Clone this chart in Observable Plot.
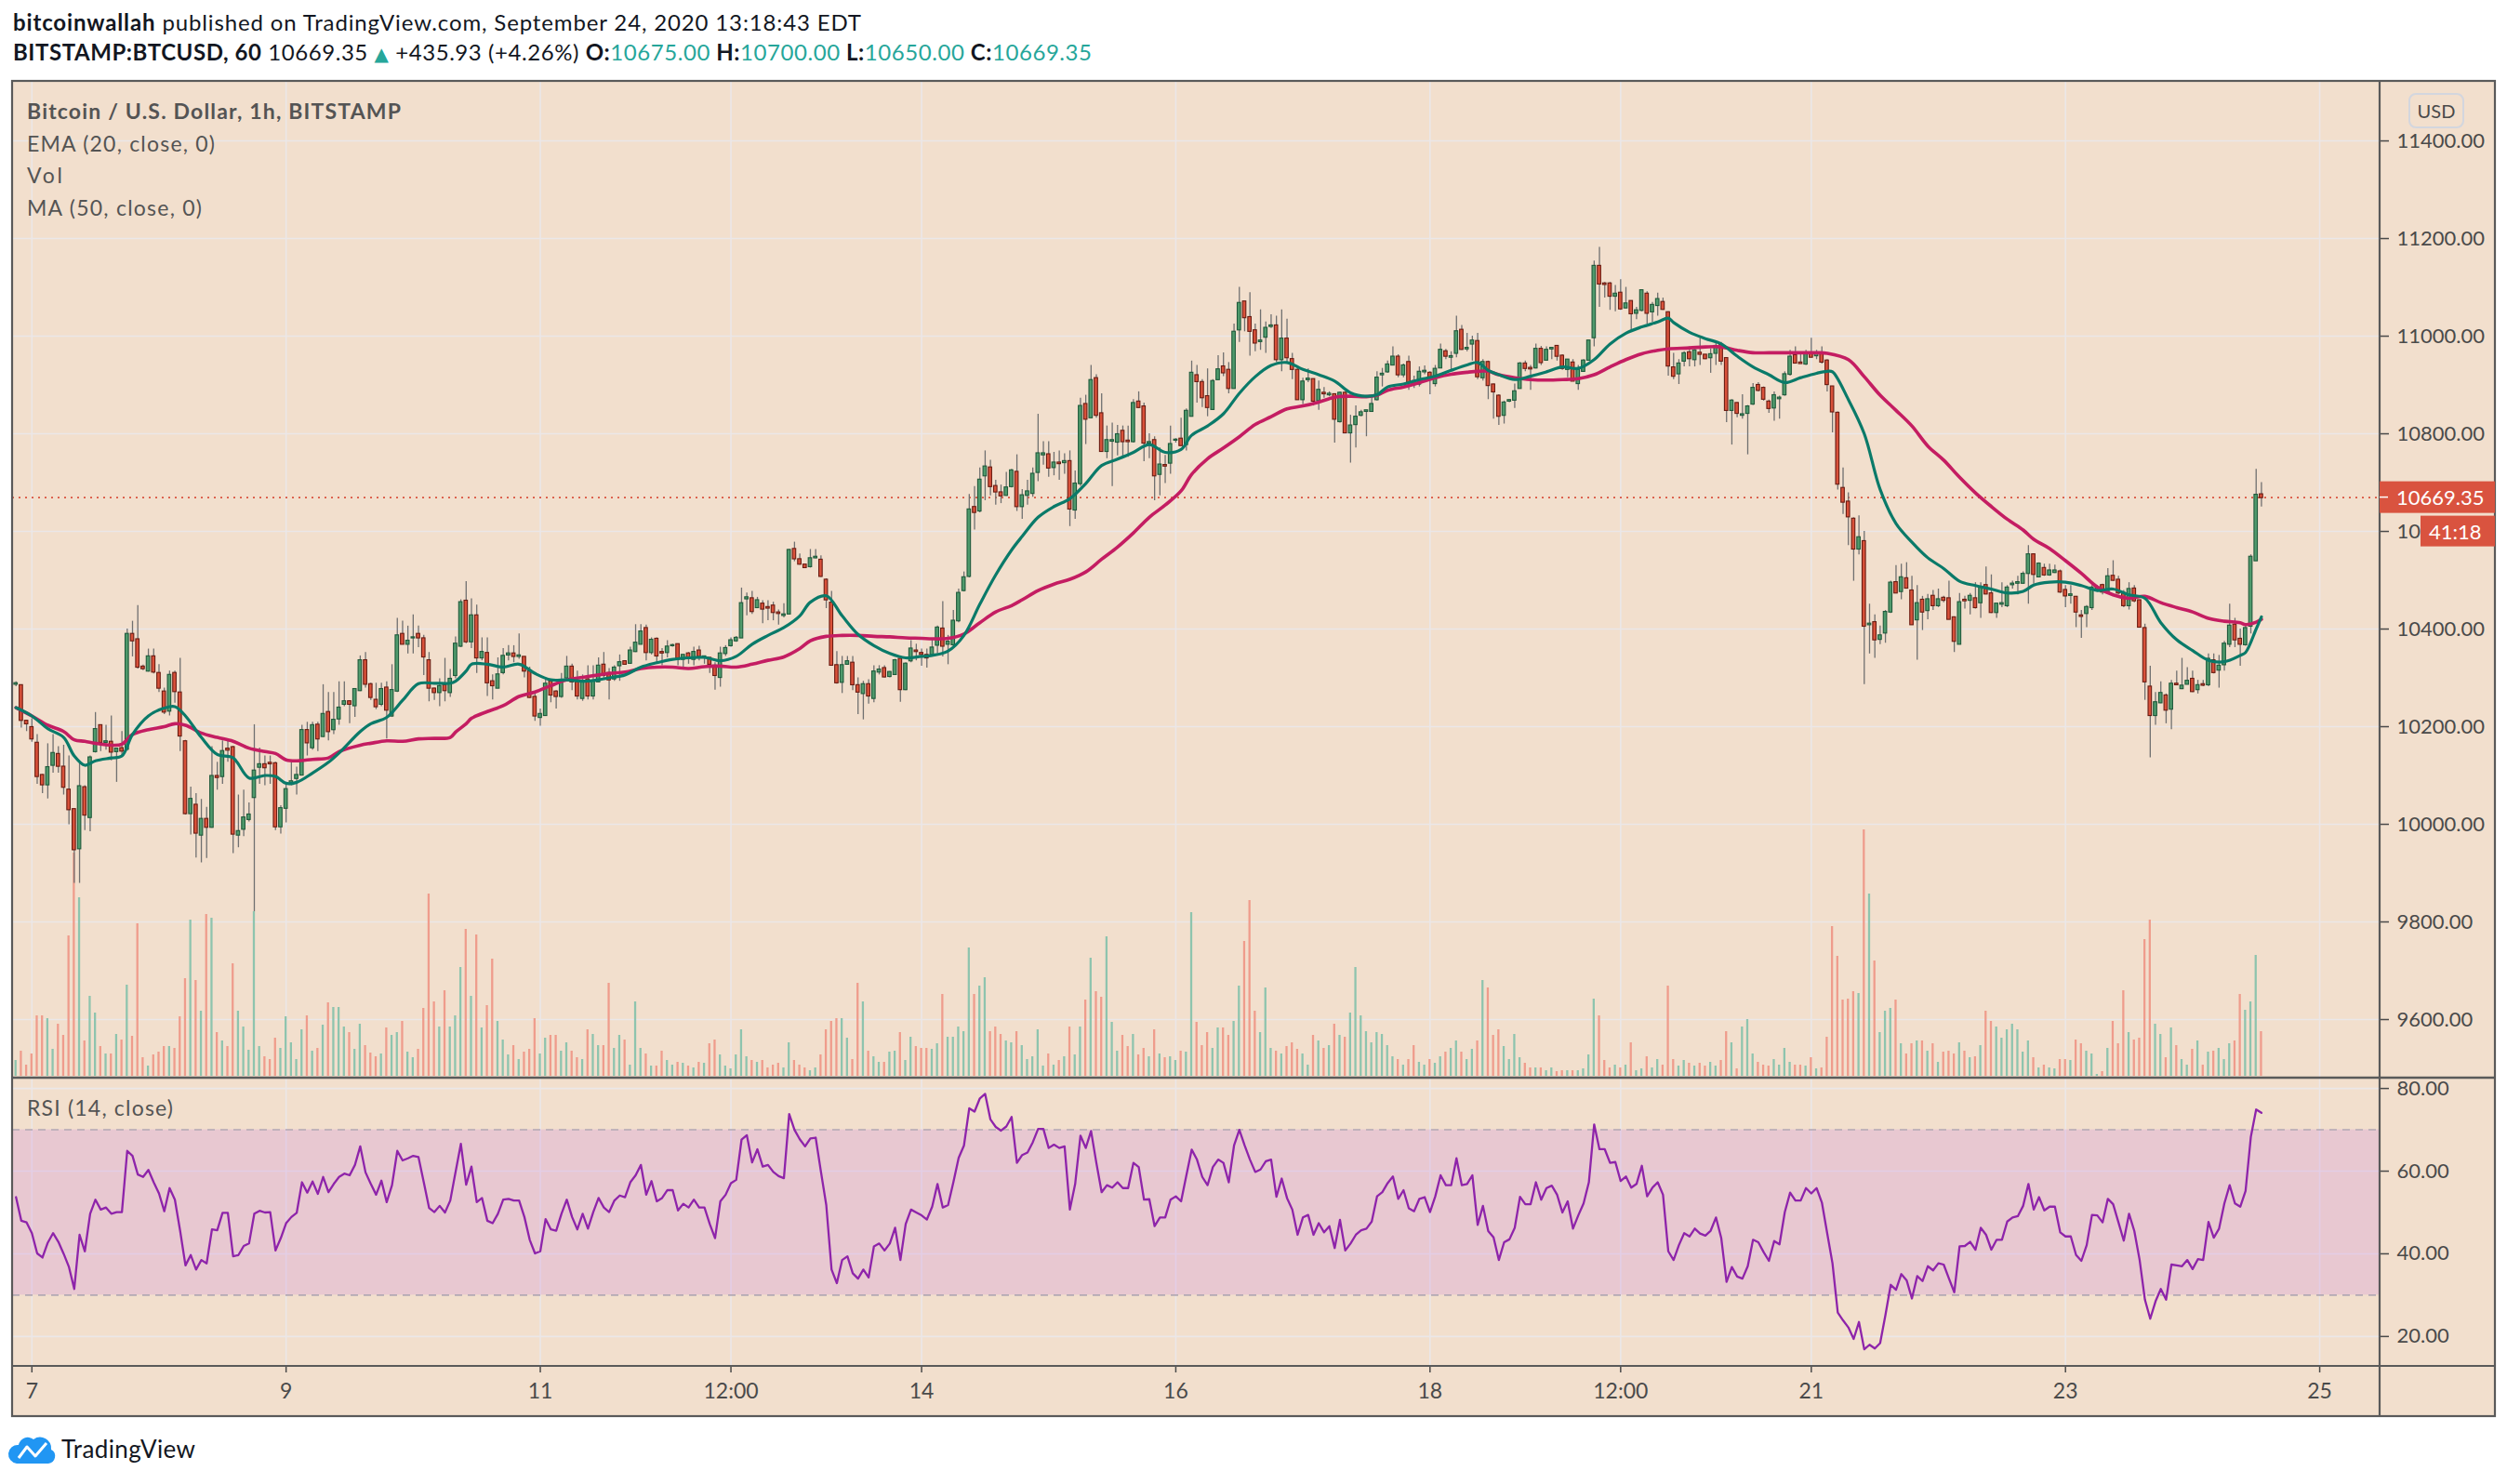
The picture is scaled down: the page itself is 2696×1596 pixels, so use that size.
<!DOCTYPE html>
<html><head><meta charset="utf-8">
<script src="https://cdn.jsdelivr.net/npm/d3@7"></script>
<script src="https://cdn.jsdelivr.net/npm/@observablehq/plot@0.6"></script>
<style>
html,body{margin:0;padding:0;background:#fff;}
#root{position:relative;width:2696px;height:1596px;overflow:hidden;background:#fff;}
#root svg{position:absolute;left:0;}
</style></head>
<body><div id="root"></div>
<script>
// ---------------- DATA ----------------
const firstCandle = Date.UTC(2020, 8, 6, 21); // Sep 6 21:00, hourly candles
const HOUR = 3600e3;

const open = [
10287,10284,10211,10198,10166,10100,10081,10121,10143,10117,
10070,10030,9950,10075,10014,10149,10202,10168,10168,10149,
10155,10154,10389,10378,10322,10314,10343,10309,10271,10232,
10309,10269,10169,10022,10039,9978,10010,9994,10098,10098,
10154,10157,9978,9990,10010,10055,10117,10122,10125,10124,
9995,10033,10082,10094,10101,10192,10157,10203,10180,10229,
10194,10216,10246,10251,10243,10274,10335,10286,10254,10246,
10279,10222,10273,10389,10369,10382,10389,10380,10335,10277,
10270,10284,10270,10305,10365,10457,10374,10427,10341,10350,
10292,10279,10311,10347,10349,10344,10342,10312,10260,10219,
10223,10292,10271,10262,10300,10322,10290,10258,10296,10263,
10292,10326,10309,10298,10325,10333,10330,10354,10369,10401,
10352,10379,10352,10352,10366,10368,10338,10349,10338,10355,
10342,10340,10324,10301,10350,10366,10376,10382,10462,10462,
10444,10451,10444,10447,10433,10428,10431,10563,10542,10531,
10528,10546,10541,10500,10453,10325,10291,10328,10330,10284,
10268,10286,10258,10312,10319,10303,10307,10338,10276,10335,
10355,10350,10346,10348,10367,10400,10369,10368,10417,10479,
10508,10649,10642,10714,10730,10692,10679,10674,10692,10721,
10651,10674,10678,10721,10757,10757,10731,10740,10741,10743,
10644,10698,10860,10833,10913,10841,10764,10785,10783,10805,
10785,10784,10865,10855,10781,10786,10717,10735,10740,10787,
10789,10778,10836,10919,10905,10876,10850,10911,10937,10930,
10893,11013,11070,11038,11011,10989,10998,11020,11021,10952,
10994,10952,10930,10870,10911,10911,10868,10883,10880,10880,
10825,10883,10802,10819,10838,10846,10846,10870,10921,10927,
10941,10957,10921,10946,10907,10902,10927,10924,10903,10935,
10968,10957,10965,11012,10974,10984,10989,10915,10946,10900,
10877,10838,10867,10869,10893,10943,10934,10935,10973,10951,
10974,10979,10959,10932,10945,10903,10928,10951,10997,11143,
11107,11107,11082,11088,11058,11071,11047,11053,11086,11050,
11063,11069,11048,10935,10923,10949,10966,10952,10965,10961,
10956,10965,10982,10954,10848,10862,10838,10842,10861,10899,
10893,10865,10853,10872,10880,10922,10960,10945,10943,10965,
10960,10962,10949,10896,10842,10688,10660,10625,10564,10579,
10409,10413,10379,10392,10435,10495,10477,10503,10478,10419,
10459,10438,10467,10448,10463,10462,10423,10369,10459,10459,
10462,10454,10489,10472,10434,10451,10448,10491,10494,10494,
10514,10552,10507,10524,10511,10516,10517,10479,10469,10465,
10427,10432,10444,10483,10489,10476,10508,10500,10473,10448,
10482,10458,10401,10281,10223,10249,10263,10236,10287,10278,
10287,10297,10276,10286,10286,10335,10316,10327,10369,10408,
10379,10368,10406,10540,10675];

const high = [
10292,10285,10213,10216,10184,10102,10165,10184,10159,10162,
10140,10032,10127,10079,10140,10229,10203,10203,10222,10156,
10190,10400,10416,10448,10326,10359,10359,10327,10279,10314,
10314,10340,10172,10076,10063,10051,10035,10159,10127,10171,
10171,10160,10060,10070,10044,10204,10156,10140,10140,10127,
10038,10082,10127,10117,10203,10209,10209,10209,10286,10270,
10270,10292,10292,10253,10276,10345,10352,10289,10289,10289,
10292,10327,10422,10416,10406,10429,10406,10387,10352,10279,
10298,10340,10317,10384,10460,10497,10462,10449,10382,10382,
10306,10341,10360,10366,10366,10390,10343,10322,10268,10236,
10300,10296,10274,10309,10344,10328,10314,10306,10325,10325,
10341,10352,10319,10325,10347,10334,10363,10409,10409,10408,
10382,10382,10360,10376,10369,10369,10347,10352,10363,10365,
10344,10341,10331,10363,10366,10382,10385,10484,10474,10477,
10465,10458,10458,10455,10439,10452,10563,10578,10554,10532,
10563,10563,10550,10503,10477,10354,10344,10344,10344,10300,
10293,10296,10325,10325,10325,10313,10338,10338,10331,10376,
10369,10359,10359,10378,10406,10456,10387,10438,10482,10517,
10676,10692,10730,10765,10746,10705,10695,10721,10727,10757,
10686,10705,10730,10840,10784,10784,10762,10765,10759,10765,
10724,10873,10879,10940,10921,10882,10816,10822,10817,10816,
10816,10870,10886,10863,10800,10794,10771,10756,10816,10790,
10832,10851,10949,10940,10911,10933,10911,10960,10966,10946,
11025,11100,11070,11089,11025,11054,11029,11044,11041,11054,
11035,10965,10936,10914,10933,10912,10908,10895,10886,10882,
10886,10886,10838,10857,10848,10848,10873,10927,10934,10949,
10978,10962,10943,10959,10918,10937,10939,10927,10940,10984,
10973,10968,11041,11022,11006,11000,11006,10952,10949,10902,
10880,10867,10870,10902,10946,10949,10940,10984,10979,10978,
10977,10981,10962,10952,10952,10940,10952,10991,11154,11182,
11110,11110,11104,11116,11100,11072,11059,11094,11091,11069,
11088,11078,11050,10965,10952,10968,10978,10973,10996,10962,
10974,10990,10987,10955,10870,10864,10880,10858,10903,10905,
10896,10869,10886,10877,10927,10971,10978,10965,10971,10996,
10971,10978,10952,10896,10845,10730,10679,10628,10632,10600,
10451,10429,10406,10438,10498,10530,10533,10536,10508,10489,
10467,10471,10479,10482,10467,10498,10425,10473,10467,10473,
10495,10495,10527,10511,10452,10495,10489,10498,10508,10517,
10571,10553,10536,10533,10533,10531,10521,10489,10489,10467,
10438,10448,10489,10489,10492,10524,10540,10508,10479,10495,
10489,10459,10410,10324,10270,10292,10267,10295,10314,10340,
10321,10314,10295,10295,10349,10349,10346,10375,10451,10422,
10400,10406,10552,10727,10700];

const low = [
10282,10197,10190,10168,10082,10063,10052,10105,10105,10060,
9999,9879,9879,9987,9985,10146,10149,10152,10130,10086,
10140,10150,10343,10318,10315,10312,10308,10270,10225,10222,
10248,10149,10019,9978,9931,9921,9930,9992,10070,10082,
10127,9940,9952,9975,10005,9821,10082,10079,10082,9987,
9980,10003,10079,10060,10099,10140,10152,10149,10178,10171,
10184,10203,10241,10206,10219,10272,10279,10254,10235,10241,
10175,10219,10270,10368,10349,10349,10362,10305,10251,10254,
10241,10251,10260,10298,10362,10370,10360,10309,10335,10262,
10255,10278,10306,10335,10331,10338,10300,10258,10211,10201,
10221,10249,10236,10258,10293,10274,10255,10252,10255,10255,
10292,10296,10255,10293,10293,10327,10328,10352,10368,10335,
10347,10328,10325,10341,10363,10325,10322,10328,10325,10335,
10328,10309,10275,10281,10344,10363,10373,10381,10427,10430,
10442,10411,10417,10417,10408,10423,10430,10538,10531,10525,
10525,10544,10506,10442,10326,10287,10268,10327,10274,10225,
10214,10246,10249,10306,10300,10300,10306,10250,10274,10331,
10335,10324,10320,10346,10349,10343,10327,10365,10413,10476,
10505,10603,10638,10663,10673,10654,10657,10672,10689,10641,
10625,10654,10670,10702,10736,10711,10714,10705,10717,10610,
10625,10692,10778,10832,10832,10762,10749,10692,10755,10749,
10752,10781,10852,10743,10749,10663,10673,10698,10717,10781,
10775,10765,10835,10863,10854,10835,10848,10910,10917,10882,
10892,10987,11009,10959,10968,10971,10965,11016,10946,10927,
10946,10911,10869,10860,10905,10857,10848,10873,10876,10781,
10822,10800,10740,10771,10835,10794,10845,10867,10896,10924,
10940,10915,10915,10889,10893,10896,10921,10880,10896,10934,
10952,10927,10956,10971,10968,10949,10911,10908,10870,10830,
10817,10820,10864,10852,10892,10927,10889,10933,10940,10949,
10952,10949,10930,10915,10907,10889,10927,10950,10978,11059,
11078,11053,11050,11053,11056,11012,11034,11050,11025,11028,
11041,11053,10918,10911,10901,10937,10937,10937,10940,10952,
10924,10940,10940,10823,10777,10833,10830,10757,10858,10886,
10867,10842,10826,10830,10877,10918,10944,10943,10940,10956,
10952,10943,10886,10802,10685,10635,10571,10498,10552,10286,
10349,10340,10368,10371,10432,10473,10460,10483,10408,10336,
10397,10419,10438,10444,10454,10419,10352,10368,10441,10429,
10441,10422,10470,10432,10422,10444,10444,10482,10470,10492,
10451,10492,10505,10508,10508,10514,10473,10444,10451,10403,
10381,10403,10438,10476,10470,10473,10498,10470,10444,10439,
10454,10403,10254,10136,10203,10247,10206,10194,10285,10276,
10286,10270,10267,10282,10282,10308,10279,10314,10362,10362,
10324,10365,10390,10539,10650];

const close = [
10288,10213,10206,10175,10098,10081,10116,10145,10119,10076,
10030,9948,10077,10019,10136,10194,10168,10169,10148,10154,
10150,10389,10376,10322,10319,10343,10312,10279,10230,10305,
10272,10181,10022,10051,9982,10010,9994,10098,10096,10149,
10152,9980,9985,10013,10019,10109,10122,10116,10124,9995,
10032,10071,10087,10100,10192,10167,10202,10175,10225,10190,
10213,10238,10251,10246,10276,10335,10287,10260,10241,10276,
10234,10274,10386,10369,10375,10382,10382,10343,10279,10270,
10282,10274,10297,10369,10454,10374,10427,10341,10352,10290,
10284,10306,10344,10349,10344,10345,10314,10260,10222,10225,
10287,10265,10262,10292,10322,10292,10263,10293,10263,10292,
10324,10305,10296,10320,10331,10328,10355,10371,10394,10352,
10377,10345,10351,10363,10366,10338,10346,10341,10352,10344,
10343,10328,10305,10349,10360,10376,10381,10452,10464,10436,
10458,10441,10443,10434,10432,10429,10561,10544,10533,10526,
10544,10547,10508,10460,10326,10290,10325,10333,10286,10271,
10286,10263,10312,10316,10302,10311,10335,10276,10328,10359,
10354,10348,10341,10361,10402,10365,10373,10416,10473,10505,
10644,10639,10705,10732,10692,10681,10673,10689,10724,10651,
10673,10681,10717,10759,10759,10730,10740,10739,10743,10646,
10697,10856,10830,10909,10838,10764,10786,10786,10798,10784,
10784,10862,10854,10781,10782,10714,10736,10734,10778,10787,
10776,10846,10924,10907,10874,10854,10907,10931,10925,10893,
11008,11067,11038,11010,10986,10990,11016,11021,10952,10994,
10956,10932,10870,10906,10912,10867,10889,10882,10881,10830,
10883,10802,10816,10834,10843,10847,10860,10914,10922,10941,
10957,10921,10939,10905,10901,10926,10928,10911,10932,10971,
10959,10958,11009,10973,10975,10990,10917,10946,10899,10886,
10836,10863,10868,10886,10943,10934,10933,10973,10946,10971,
10975,10959,10934,10951,10908,10930,10949,10990,11143,11107,
11106,11082,11086,11056,11066,11046,11052,11093,11047,11063,
11075,11055,10939,10918,10943,10964,10954,10970,10963,10954,
10962,10979,10949,10848,10867,10842,10839,10855,10893,10889,
10871,10852,10878,10873,10921,10957,10945,10944,10962,10957,
10962,10947,10901,10845,10697,10660,10630,10564,10587,10406,
10410,10378,10386,10434,10494,10474,10505,10484,10409,10452,
10435,10460,10448,10460,10459,10420,10375,10454,10458,10467,
10444,10484,10472,10434,10451,10452,10484,10492,10495,10512,
10552,10512,10533,10511,10519,10519,10476,10468,10470,10435,
10426,10444,10484,10484,10476,10507,10500,10474,10448,10481,
10458,10404,10292,10223,10249,10268,10234,10287,10286,10283,
10293,10272,10284,10285,10338,10311,10324,10369,10406,10378,
10369,10401,10547,10674,10669.35];

// volume (relative units, read as bar heights)
const volume = [
17,27,12,24,65,65,62,29,56,44, 151,240,192,38,86,68,32,24,24,45,
39,98,43,164,20,11,23,26,32,32, 30,64,105,168,103,70,174,170,47,38,
32,121,70,53,28,177,32,21,18,41, 30,64,36,18,50,65,27,30,55,79,
74,74,53,47,29,56,33,25,21,24, 52,44,47,59,26,20,29,73,196,80,
53,92,53,65,117,158,86,152,52,76, 126,59,39,23,33,18,26,29,62,24,
41,44,44,27,36,27,20,18,50,45, 33,33,100,30,44,39,12,80,30,24,
11,11,27,17,12,15,14,11,9,15, 14,35,39,23,11,8,23,50,21,17,
15,17,9,12,14,9,36,17,12,9, 6,9,23,50,59,62,62,41,18,100,
80,27,21,15,15,26,27,47,17,42, 32,30,30,29,35,88,42,42,53,48,
138,88,97,106,48,53,45,38,36,48, 33,18,21,50,11,24,12,17,21,53,
23,53,82,127,91,85,150,58,27,44, 32,45,23,30,21,50,24,20,21,17,
27,26,176,58,33,47,30,52,52,44, 59,97,145,189,70,47,95,30,27,24,
32,36,29,24,12,44,38,30,33,56, 44,42,68,117,65,48,36,47,45,33,
21,18,12,18,33,15,12,18,14,21, 26,30,38,26,18,29,38,103,95,44,
50,32,18,45,20,14,9,9,9,6, 9,5,6,6,6,6,8,23,83,65,
17,9,12,9,12,36,6,8,21,9, 18,12,97,18,11,17,14,11,14,11,
15,11,17,48,36,8,53,61,24,15, 12,11,18,12,30,15,12,12,11,20,
8,9,42,161,129,82,83,91,89,265, 196,124,47,70,73,82,35,24,35,38,
38,27,35,15,26,27,24,36,27,20, 21,33,70,59,53,41,50,56,50,26,
38,20,9,12,9,8,18,18,17,39, 35,27,24,2,5,30,59,35,92,47,
39,41,147,168,56,45,20,52,33,18, 12,29,38,12,26,27,30,18,35,38,
88,71,80,130,48];

const rsi = [
53.7,48,47.6,45,40.1,39.1,42.7,45,42.9,40, 36.8,31.5,44.6,40.6,49.7,53.1,50.7,51.2,49.7,50.1,
50.1,64.9,63.7,59.2,58.6,60.3,57.3,54.6,50.3,55.9, 53.1,45.5,37.2,39.7,36.2,38.5,37.7,45.9,45.7,49.9,
49.9,39.4,39.7,41.9,42.5,49.7,50.4,50,50.1,40.8, 43.8,47.4,48.9,49.9,57.3,54.8,57.5,54.5,58.6,54.9,
56.9,58.6,59.4,59,61.5,66,59.7,56.9,54.3,57.7, 52.5,56.6,64.9,62.6,63.1,63.7,63.4,57.3,51.1,50.1,
51.6,50,52.9,59.8,66.6,56.7,61.1,52.5,53.5,48, 47.4,49.7,53.1,53.3,52.9,52.9,48.9,43.4,40.1,40.6,
48.4,45.9,45.6,49.7,53.1,48.9,45.9,49.7,46.1,50.1, 53.5,51.2,50.1,52.9,54.1,53.7,57.3,59,61.5,54.3,
57.6,52.7,53.5,55.4,55.4,50.5,52.1,51.2,53.1,51.2, 51.2,47.2,43.8,52.7,54.3,57.1,57.9,67.6,68.7,62.1,
65.3,61.1,61.5,59.8,58.8,58.3,73.8,70,67.7,66, 67.9,68.1,59.8,51.8,36.2,32.9,38.5,39.4,35.3,34,
36.2,34.3,41.8,42.5,40.8,42.5,46.3,38.5,47.2,50.7, 50,49.3,48.3,51.4,56.9,51.2,51.8,57.3,63.2,66.2,
75.2,74.4,77.6,78.7,72.5,70.7,69.8,70.8,73.1,62, 63.9,64.5,67,70.2,70.2,65.6,66.4,65.6,66,50.7,
56.9,68.6,65.6,69.7,62,54.9,56.6,56,57.3,55.9, 55.9,62,61,53.1,53.2,46.7,48.8,48.8,53.1,53.9,
52.7,59,65.2,62.8,58.6,56.6,61,62.8,62,57.3, 66.2,70,66.2,62.8,59.8,60.4,62.4,62.8,53.8,58.2,
53.5,50.7,44.6,48.8,49.4,44.6,47.4,45.2,46.7,41.4, 48.2,40.8,42.5,44.6,45.7,46.1,47.8,53.9,54.9,57.1,
58.7,53.3,55.4,51,50.3,53.3,53.7,50.1,53.9,59, 56.6,56.6,63.1,56.6,56.9,59,47,51.6,45.5,44,
38.5,42.8,43.5,46.3,53.8,52,52,57.3,53.1,55.9, 56.5,54.3,50,52.7,46.1,49.3,52.2,57.3,71.3,65.3,
65.3,62,62.2,57.6,58.7,56,56.9,61.3,53.9,56, 57.3,54.3,40.6,38.5,42.1,45,44.2,46.1,44.9,44.4,
45.6,48.8,43.8,33.2,36.8,34.5,34,37,43.4,42.8, 40.4,38.3,43.1,42.3,50.1,54.8,52.9,52.9,55.9,54.6,
55.9,52.4,45,37.7,25.8,23.9,22.2,19.4,23.5,16.9, 18,17.1,18.4,25.2,32.5,31.3,35.1,33.6,29.2,34.6,
33.4,37,36,37.7,37.4,34,30.7,41.8,41.9,42.9, 41,46.3,44.6,41,43.4,43.4,47.8,48.8,49.1,51.6,
56.9,50.7,53.7,50.5,51.4,51.4,45.2,44.2,44.2,39.7, 38.3,42.1,49.4,49.3,47.6,53.3,52,47.6,43.2,49.7,
45.5,38.5,28.9,24.3,28.5,31.5,28.9,37.4,37.2,37, 38.5,36.3,38.7,38.5,47.7,43.9,46.1,52.2,56.6,52.2,
51.4,55.2,68.3,74.9,74.1];

// EMA(20) and MA(50): [candle number (1-based), value]
const emaPoints = [
[1,10239],[4,10222],[7,10196],[10,10178],[12,10140],[14,10121],[16,10130],[19,10136],[21,10140],[23,10184],
[26,10222],[29,10238],[31,10241],[33,10222],[36,10178],[39,10143],[42,10136],[45,10095],[48,10100],[50,10098],
[52,10084],[54,10086],[57,10105],[60,10127],[62,10146],[66,10190],[68,10206],[71,10219],[74,10254],[77,10288],
[80,10289],[83,10289],[84,10293],[86,10314],[87,10328],[90,10328],[93,10322],[96,10328],[99,10309],[102,10296],
[105,10296],[108,10293],[111,10296],[113,10300],[116,10306],[119,10322],[122,10331],[125,10338],[128,10341],[131,10342],
[134,10335],[137,10344],[140,10369],[143,10387],[146,10403],[149,10427],[151,10455],[154,10468],[157,10427],[160,10389],
[163,10366],[166,10350],[169,10341],[172,10344],[174,10346],[177,10355],[180,10387],[183,10451],[186,10511],[189,10562],
[191,10590],[194,10629],[197,10651],[200,10667],[203,10698],[206,10735],[209,10748],[212,10762],[215,10778],[218,10762],
[221,10768],[223,10797],[226,10816],[229,10841],[232,10883],[235,10917],[238,10940],[241,10946],[244,10932],[247,10921],
[250,10908],[253,10884],[256,10877],[258,10880],[260,10896],[263,10902],[266,10911],[269,10918],[272,10930],[275,10941],
[277,10946],[279,10930],[281,10921],[284,10911],[287,10918],[290,10927],[293,10937],[296,10934],[299,10952],[302,10984],
[305,11006],[308,11019],[311,11029],[313,11037],[314,11028],[317,11008],[320,10995],[323,10984],[326,10959],[329,10937],
[332,10921],[335,10905],[338,10915],[341,10924],[343,10928],[344,10927],[347,10870],[350,10800],[353,10686],[356,10616],
[359,10578],[362,10546],[365,10524],[368,10498],[371,10489],[374,10482],[377,10474],[380,10477],[382,10490],[385,10496],
[388,10496],[391,10489],[394,10479],[397,10482],[400,10470],[403,10463],[406,10413],[409,10378],[412,10356],[415,10336],
[418,10333],[421,10346],[422,10352],[424,10400],[425,10425]];

const maPoints = [
[1,10239],[4,10222],[7,10203],[10,10190],[12,10173],[14,10170],[16,10166],[19,10162],[21,10164],[23,10184],
[26,10194],[29,10200],[31,10206],[33,10203],[36,10187],[39,10178],[42,10170],[45,10156],[48,10149],[50,10145],
[52,10132],[54,10130],[57,10133],[60,10136],[62,10149],[66,10162],[68,10166],[71,10171],[74,10170],[77,10175],
[80,10176],[83,10178],[84,10189],[86,10206],[87,10217],[90,10231],[93,10243],[96,10262],[99,10271],[102,10284],
[105,10296],[108,10301],[111,10306],[113,10309],[116,10312],[119,10319],[122,10322],[125,10322],[128,10319],[131,10323],
[134,10324],[137,10322],[140,10328],[143,10336],[146,10343],[149,10360],[151,10376],[154,10385],[157,10387],[160,10387],
[163,10385],[166,10384],[169,10382],[172,10381],[174,10380],[177,10381],[180,10390],[183,10413],[186,10435],[189,10448],
[191,10460],[194,10479],[197,10492],[200,10502],[203,10517],[206,10543],[209,10568],[212,10597],[215,10629],[218,10654],
[221,10683],[223,10717],[226,10749],[229,10771],[232,10794],[235,10819],[238,10835],[241,10851],[244,10857],[247,10865],
[250,10875],[253,10877],[256,10876],[258,10879],[260,10889],[263,10896],[266,10905],[269,10915],[272,10922],[275,10926],
[277,10928],[279,10928],[281,10921],[284,10915],[287,10911],[290,10910],[293,10911],[296,10913],[299,10921],[302,10937],
[305,10952],[308,10964],[311,10971],[313,10974],[317,10976],[320,10978],[323,10978],[326,10971],[329,10966],[332,10966],
[335,10966],[338,10966],[341,10966],[343,10965],[347,10952],[350,10917],[353,10879],[356,10848],[359,10816],[362,10775],
[365,10746],[368,10711],[371,10679],[374,10651],[377,10625],[380,10603],[382,10584],[385,10565],[388,10540],[391,10514],
[394,10486],[397,10470],[400,10463],[403,10467],[406,10454],[409,10444],[412,10435],[415,10422],[418,10416],[421,10413],
[422,10409],[424,10414],[425,10420]];

const priceTicks = [9600, 9800, 10000, 10200, 10400, 10600, 10800, 11000, 11200, 11400];
const rsiTicks = [20, 40, 60, 80];
const rsiBands = [30, 70];
const timeTickDates = [
  Date.UTC(2020,8,7), Date.UTC(2020,8,9), Date.UTC(2020,8,11), Date.UTC(2020,8,12,12),
  Date.UTC(2020,8,14), Date.UTC(2020,8,16), Date.UTC(2020,8,18), Date.UTC(2020,8,19,12),
  Date.UTC(2020,8,21), Date.UTC(2020,8,23), Date.UTC(2020,8,25)];
const timeTickLabels = ["7","9","11","12:00","14","16","18","12:00","21","23","25"];

// ---------------- STYLE ----------------
const FONT = "Lato, 'Liberation Sans', sans-serif";
const BG = "#f2dfcd", GRID = "#ebe7e8", AXISC = "#4a4a4a";
const UPF = "#4f9a6c", UPS = "#1f5a3b", DNF = "#d9513a", DNS = "#6a1c12", WICK = "#707070";
const VUP = "#8ec4ae", VDN = "#ef9c8c";
const EMAC = "#0a7a69", MAC = "#c41d62", RSIC = "#8e24aa", LASTC = "#d9533f";

const xDomain = [new Date(Date.UTC(2020,8,7) - 3.652*HOUR), new Date(Date.UTC(2020,8,7) + 443.4*HOUR)];
const priceDomain = [9480, 11522];
const rsiDomain = [12.77, 82.5];
const tickDates = timeTickDates.map(d => new Date(d));
const tickLabel = new Map(timeTickDates.map((d,i) => [d, timeTickLabels[i]]));

const candles = open.map((o, i) => ({
  t: new Date(firstCandle + i*HOUR), o, h: high[i], l: low[i], c: close[i], v: volume[i], r: rsi[i]
}));
const isUp = d => d.c >= d.o;
const tOf = n => new Date(firstCandle + (n-1)*HOUR);
const lastClose = close[close.length-1];
const MIN = 60e3;

const root = document.getElementById("root");
const bgDiv = document.createElement("div");
Object.assign(bgDiv.style, {position:"absolute", left:"13px", top:"87px", width:"2670px", height:"1436px", background:BG});
root.appendChild(bgDiv);

function place(svg, top) { svg.style.top = top + "px"; root.appendChild(svg); return svg; }
const common = {
  width: 2696, marginLeft: 13, marginRight: 137,
  style: {background: "transparent", overflow: "visible", fontFamily: FONT, color: AXISC}
};

// layer 1: grid + price axis
const gridPlot = Plot.plot({
  ...common, height: 1072, marginTop: 0, marginBottom: 0,
  x: {type: "utc", domain: xDomain, axis: null},
  y: {domain: priceDomain, axis: null},
  marks: [
    Plot.gridX(tickDates, {stroke: GRID, strokeOpacity: 1, strokeWidth: 1.6}),
    Plot.gridY(priceTicks, {stroke: GRID, strokeOpacity: 1, strokeWidth: 1.6}),
    Plot.axisY(priceTicks, {anchor: "right", tickFormat: d3.format(".2f"), tickSize: 9, tickPadding: 9,
      fontSize: 22, color: AXISC, strokeWidth: 1.5, label: null})
  ]
});
place(gridPlot, 87);

// layer 2: volume
const volPlot = Plot.plot({
  ...common, height: 1070, marginTop: 0, marginBottom: 0,
  x: {type: "utc", domain: xDomain, axis: null},
  y: {domain: [0, 1070], axis: null},
  color: {type: "identity"},
  marks: [
    Plot.rectY(candles, {x1: d => new Date(+d.t - 12*MIN), x2: d => new Date(+d.t + 12*MIN), y: "v",
      fill: d => isUp(d) ? VUP : VDN})
  ]
});
place(volPlot, 87);

// layer 3: candles + moving averages
const candlePlot = Plot.plot({
  ...common, height: 1072, marginTop: 0, marginBottom: 0,
  x: {type: "utc", domain: xDomain, axis: null},
  y: {domain: priceDomain, axis: null},
  color: {type: "identity"},
  marks: [
    Plot.ruleY([lastClose], {stroke: LASTC, strokeWidth: 1.6, strokeDasharray: "2,5"}),
    Plot.ruleX(candles, {x: "t", y1: "l", y2: "h", stroke: WICK, strokeWidth: 1.3}),
    Plot.rect(candles, {x1: d => new Date(+d.t - 19*MIN), x2: d => new Date(+d.t + 19*MIN),
      y1: "o", y2: "c", insetTop: -0.6, insetBottom: -0.6,
      fill: d => isUp(d) ? UPF : DNF, stroke: d => isUp(d) ? UPS : DNS, strokeWidth: 1.1}),
    Plot.line(maPoints, {x: d => tOf(d[0]), y: d => d[1], stroke: MAC, strokeWidth: 3.6, curve: "catmull-rom"}),
    Plot.line(emaPoints, {x: d => tOf(d[0]), y: d => d[1], stroke: EMAC, strokeWidth: 3.2, curve: "catmull-rom"})
  ]
});
place(candlePlot, 87);

// layer 4: RSI pane with time axis
const rsiPlot = Plot.plot({
  ...common, height: 364, marginTop: 0, marginBottom: 54,
  x: {type: "utc", domain: xDomain, axis: null},
  y: {domain: rsiDomain, axis: null},
  marks: [
    Plot.gridX(tickDates, {stroke: GRID, strokeOpacity: 1, strokeWidth: 1.6}),
    Plot.gridY(rsiTicks, {stroke: GRID, strokeOpacity: 1, strokeWidth: 1.6}),
    Plot.rect([{a: xDomain[0], b: xDomain[1], lo: rsiBands[0], hi: rsiBands[1]}],
      {x1: "a", x2: "b", y1: "lo", y2: "hi", fill: "rgb(202,131,222)", fillOpacity: 0.25}),
    Plot.ruleY(rsiBands, {stroke: "#b3a9b4", strokeWidth: 1.6, strokeDasharray: "8,6"}),
    Plot.line(candles, {x: "t", y: "r", stroke: RSIC, strokeWidth: 2.3}),
    Plot.axisY(rsiTicks, {anchor: "right", tickFormat: d3.format(".2f"), tickSize: 9, tickPadding: 9,
      fontSize: 22, color: AXISC, strokeWidth: 1.5, label: null}),
    Plot.axisX(tickDates, {anchor: "bottom", tickFormat: d => tickLabel.get(+d), tickSize: 7, tickPadding: 11,
      fontSize: 23, color: AXISC, strokeWidth: 1.5, label: null})
  ]
});
place(rsiPlot, 1159);

// frame lines + texts overlay
const ov = d3.create("svg").attr("width", 2696).attr("height", 1596)
  .style("top", "0px").style("font-family", FONT).style("pointer-events", "none");
const frameC = "#5a5a5a";
ov.append("rect").attr("x", 13).attr("y", 87).attr("width", 2670).attr("height", 1436)
  .attr("fill", "none").attr("stroke", frameC).attr("stroke-width", 2.2);
ov.append("line").attr("x1", 2559).attr("x2", 2559).attr("y1", 87).attr("y2", 1523).attr("stroke", frameC).attr("stroke-width", 2.2);
ov.append("line").attr("x1", 13).attr("x2", 2683).attr("y1", 1159).attr("y2", 1159).attr("stroke", frameC).attr("stroke-width", 2.4);
ov.append("line").attr("x1", 13).attr("x2", 2683).attr("y1", 1469).attr("y2", 1469).attr("stroke", frameC).attr("stroke-width", 2.2);

// header
const h1 = ov.append("text").attr("x", 14).attr("y", 33).attr("font-size", 24).attr("fill", "#131722")
  .attr("textLength", 912).attr("lengthAdjust", "spacing");
h1.append("tspan").attr("font-weight", "bold").text("bitcoinwallah");
h1.append("tspan").text(" published on TradingView.com, September 24, 2020 13:18:43 EDT");
const TEAL = "#26a69a";
const h2 = ov.append("text").attr("x", 14).attr("y", 65).attr("font-size", 24).attr("fill", "#131722")
  .attr("textLength", 1160).attr("lengthAdjust", "spacing");
h2.append("tspan").attr("font-weight", "bold").text("BITSTAMP:BTCUSD, 60");
h2.append("tspan").text(" 10669.35 ");
h2.append("tspan").attr("fill", TEAL).attr("font-family", "'DejaVu Sans'").attr("font-size", 20).text("▲");
h2.append("tspan").text(" +435.93 (+4.26%) ");
[["O:", "10675.00"], ["H:", "10700.00"], ["L:", "10650.00"], ["C:", "10669.35"]].forEach(([k, v], i) => {
  h2.append("tspan").attr("font-weight", "bold").text((i ? " " : "") + k);
  h2.append("tspan").attr("fill", TEAL).text(v);
});

// pane legends
const LEG = "#545454";
ov.append("text").attr("x", 29).attr("y", 128).attr("font-size", 23).attr("font-weight", "bold").attr("fill", LEG)
  .attr("textLength", 402).attr("lengthAdjust", "spacing").text("Bitcoin / U.S. Dollar, 1h, BITSTAMP");
[["EMA (20, close, 0)", 163, 202], ["Vol", 197, 38], ["MA (50, close, 0)", 232, 188]].forEach(([s, y, w]) =>
  ov.append("text").attr("x", 29).attr("y", y).attr("font-size", 23).attr("fill", LEG)
    .attr("textLength", w).attr("lengthAdjust", "spacing").text(s));
ov.append("text").attr("x", 29).attr("y", 1200).attr("font-size", 23).attr("fill", LEG)
  .attr("textLength", 157).attr("lengthAdjust", "spacing").text("RSI (14, close)");

// USD badge
ov.append("rect").attr("x", 2591).attr("y", 101).attr("width", 58).attr("height", 36).attr("rx", 7)
  .attr("fill", "none").attr("stroke", "#d3d6de").attr("stroke-width", 2);
ov.append("text").attr("x", 2620).attr("y", 127).attr("text-anchor", "middle").attr("font-size", 20).attr("fill", AXISC).text("USD");

// last price label positioned through the price scale
const yLast = 87 + candlePlot.scale("y").apply(lastClose);
ov.append("rect").attr("x", 2559).attr("y", yLast - 17).attr("width", 124).attr("height", 34).attr("fill", LASTC);
ov.append("line").attr("x1", 2559).attr("x2", 2568).attr("y1", yLast).attr("y2", yLast).attr("stroke", "#fff").attr("stroke-width", 1.5);
ov.append("text").attr("x", 2577).attr("y", yLast + 8).attr("font-size", 22).attr("fill", "#fff").text(d3.format(".2f")(lastClose));
ov.append("rect").attr("x", 2603).attr("y", yLast + 20).attr("width", 80).attr("height", 33).attr("fill", LASTC);
ov.append("text").attr("x", 2612).attr("y", yLast + 45).attr("font-size", 22).attr("fill", "#fff").text("41:18");

// TradingView logo
const lg = ov.append("g");
lg.append("path").attr("fill", "#2196f3")
  .attr("d", "M18,1574 L52,1574 A8,8 0 0 0 55,1559 A12,12 0 0 0 36,1548 A10,10 0 0 0 20,1554 A10,10 0 0 0 18,1574 Z");
lg.append("polyline").attr("points", "20,1568 29,1556 38,1566 50,1552").attr("fill", "none")
  .attr("stroke", "#fff").attr("stroke-width", 3).attr("stroke-linejoin", "round");
ov.append("text").attr("x", 66).attr("y", 1568).attr("font-size", 26).attr("fill", "#131722")
  .attr("textLength", 144).attr("lengthAdjust", "spacing").text("TradingView");

root.appendChild(ov.node());
</script>
</body></html>
